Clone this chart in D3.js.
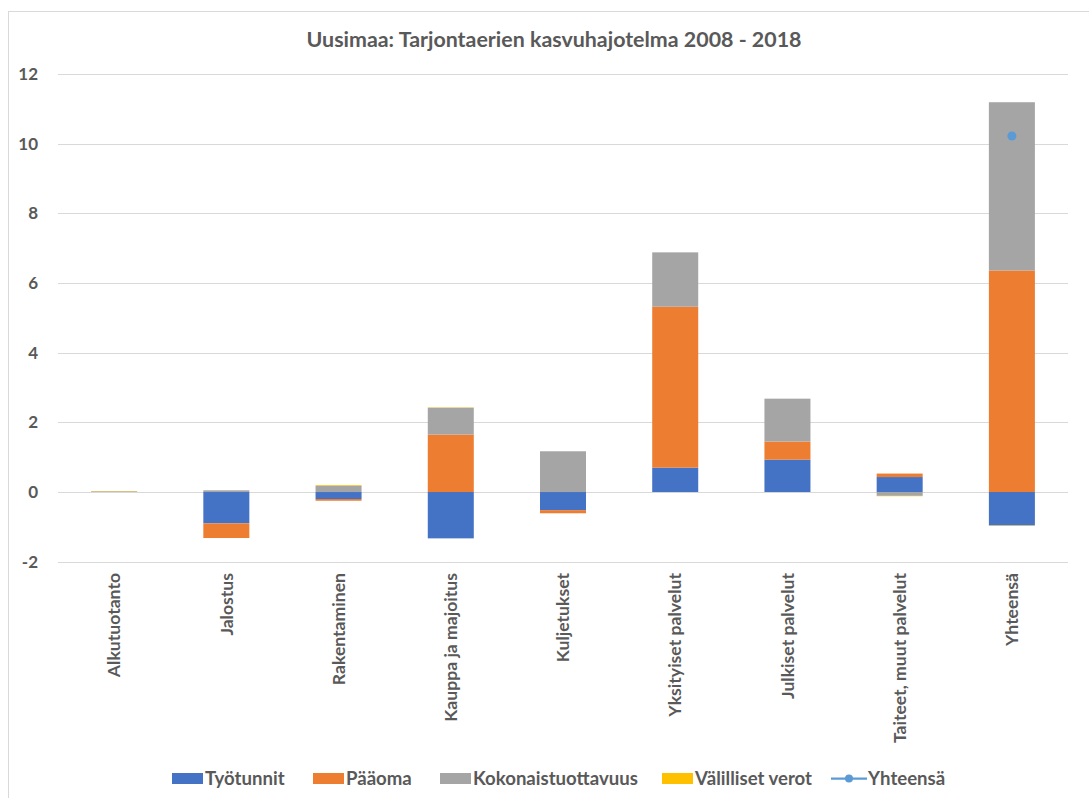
<!DOCTYPE html>
<html>
<head>
<meta charset="utf-8">
<script src="https://cdn.jsdelivr.net/npm/d3@7"></script>
<style>
  html, body { margin: 0; padding: 0; background: #fff; }
  text { font-family: Lato, "Open Sans", sans-serif; font-weight: bold; fill: #595959; }
</style>
</head>
<body>
<svg id="chart" width="1089" height="798"></svg>
<script>
const categories = ["Alkutuotanto", "Jalostus", "Rakentaminen", "Kauppa ja majoitus", "Kuljetukset",
  "Yksityiset palvelut", "Julkiset palvelut", "Taiteet, muut palvelut", "Yhteensä"];
const tyotunnit   = [0.00, -0.90, -0.20, -1.33, -0.52, 0.70, 0.93, 0.43, -0.96];
const paaoma      = [0.00, -0.42, -0.05, 1.65, -0.09, 4.62, 0.52, 0.10, 6.36];
const kokonais    = [0.02, 0.05, 0.18, 0.77, 1.17, 1.56, 1.23, -0.11, 4.83];
const valilliset  = [0.01, 0.00, 0.02, 0.01, 0.00, 0.00, 0.00, -0.01, -0.01];
const yhteensa    = [null, null, null, null, null, null, null, null, 10.22];
const seriesNames = ["Työtunnit", "Pääoma", "Kokonaistuottavuus", "Välilliset verot", "Yhteensä"];
const yTicks = [-2, 0, 2, 4, 6, 8, 10, 12];
const title = "Uusimaa: Tarjontaerien kasvuhajotelma 2008 - 2018";

const colors = ["#4472C4", "#ED7D31", "#A5A5A5", "#FFC000"];
const lineColor = "#5B9BD5";
const FONT = "Lato, 'Open Sans', sans-serif";

const svg = d3.select("#chart");
// chart border
svg.append("rect").attr("x", 8.5).attr("y", 11.5).attr("width", 1100).attr("height", 800)
  .attr("fill", "none").attr("stroke", "#d9d9d9").attr("stroke-width", 1);

const x = d3.scaleBand().domain(categories).range([58, 1068]).paddingInner(0.59).paddingOuter(0.295);
const y = d3.scaleLinear().domain([-2, 12]).range([561.7, 74]);

// title
svg.append("text").attr("x", 554).attr("y", 47).attr("text-anchor", "middle")
  .style("font-size", "21.4px").text(title);

// gridlines
svg.append("g").selectAll("line").data(yTicks).join("line")
  .attr("x1", 58).attr("x2", 1068)
  .attr("y1", d => Math.round(y(d)) + 0.5).attr("y2", d => Math.round(y(d)) + 0.5)
  .attr("stroke", "#d9d9d9").attr("stroke-width", 1);

// y axis labels
const yAxis = d3.axisLeft(y).tickValues(yTicks).tickSize(0).tickPadding(0).tickFormat(d => String(d));
const gy = svg.append("g").attr("transform", "translate(38,0)").call(yAxis);
gy.select(".domain").remove();
gy.selectAll("text").style("font-size", "17px").attr("fill", "#595959")
  .style("font-family", FONT).style("font-weight", "bold");

// stacked bars
const rows = categories.map((c, i) => ({
  cat: c, s0: tyotunnit[i], s1: paaoma[i], s2: kokonais[i], s3: valilliset[i]
}));
const stack = d3.stack().keys(["s0", "s1", "s2", "s3"]).offset(d3.stackOffsetDiverging);
const stacked = stack(rows);

svg.append("g").selectAll("g").data(stacked).join("g")
  .attr("fill", (d, i) => colors[i])
  .selectAll("rect").data(d => d).join("rect")
  .attr("x", d => x(d.data.cat))
  .attr("width", x.bandwidth())
  .attr("y", d => y(Math.max(d[0], d[1])))
  .attr("height", d => Math.abs(y(d[0]) - y(d[1])));

// line series (Yhteensä)
const lineData = categories.map((c, i) => ({ cat: c, v: yhteensa[i] }));
const line = d3.line().defined(d => d.v !== null)
  .x(d => x(d.cat) + x.bandwidth() / 2).y(d => y(d.v));
svg.append("path").datum(lineData).attr("d", line)
  .attr("fill", "none").attr("stroke", lineColor).attr("stroke-width", 2.25);
svg.append("g").selectAll("circle").data(lineData.filter(d => d.v !== null)).join("circle")
  .attr("cx", d => x(d.cat) + x.bandwidth() / 2).attr("cy", d => y(d.v))
  .attr("r", 4.5).attr("fill", lineColor);

// category labels
const xAxis = d3.axisBottom(x).tickSize(0).tickPadding(0);
const gx = svg.append("g").attr("transform", "translate(0,573)").call(xAxis);
gx.select(".domain").remove();
gx.selectAll("text")
  .attr("transform", "rotate(-90)")
  .attr("x", 0).attr("y", 0).attr("dy", "0.35em")
  .attr("text-anchor", "end")
  .attr("fill", "#595959")
  .style("font-size", "17.6px").style("font-family", FONT).style("font-weight", "bold");

// legend
const legendX = [172, 313, 440, 662, 831];
const lg = svg.append("g");
seriesNames.forEach((name, i) => {
  const lx = legendX[i];
  if (i < 4) {
    lg.append("rect").attr("x", lx).attr("y", 773).attr("width", 31).attr("height", 11).attr("fill", colors[i]);
  } else {
    lg.append("line").attr("x1", lx).attr("x2", lx + 36).attr("y1", 778.5).attr("y2", 778.5)
      .attr("stroke", lineColor).attr("stroke-width", 2.25);
    lg.append("circle").attr("cx", lx + 18).attr("cy", 778.5).attr("r", 4).attr("fill", lineColor);
  }
  lg.append("text").attr("x", lx + (i < 4 ? 33 : 37)).attr("y", 785).style("font-size", "18.6px").text(name);
});
</script>
</body>
</html>
